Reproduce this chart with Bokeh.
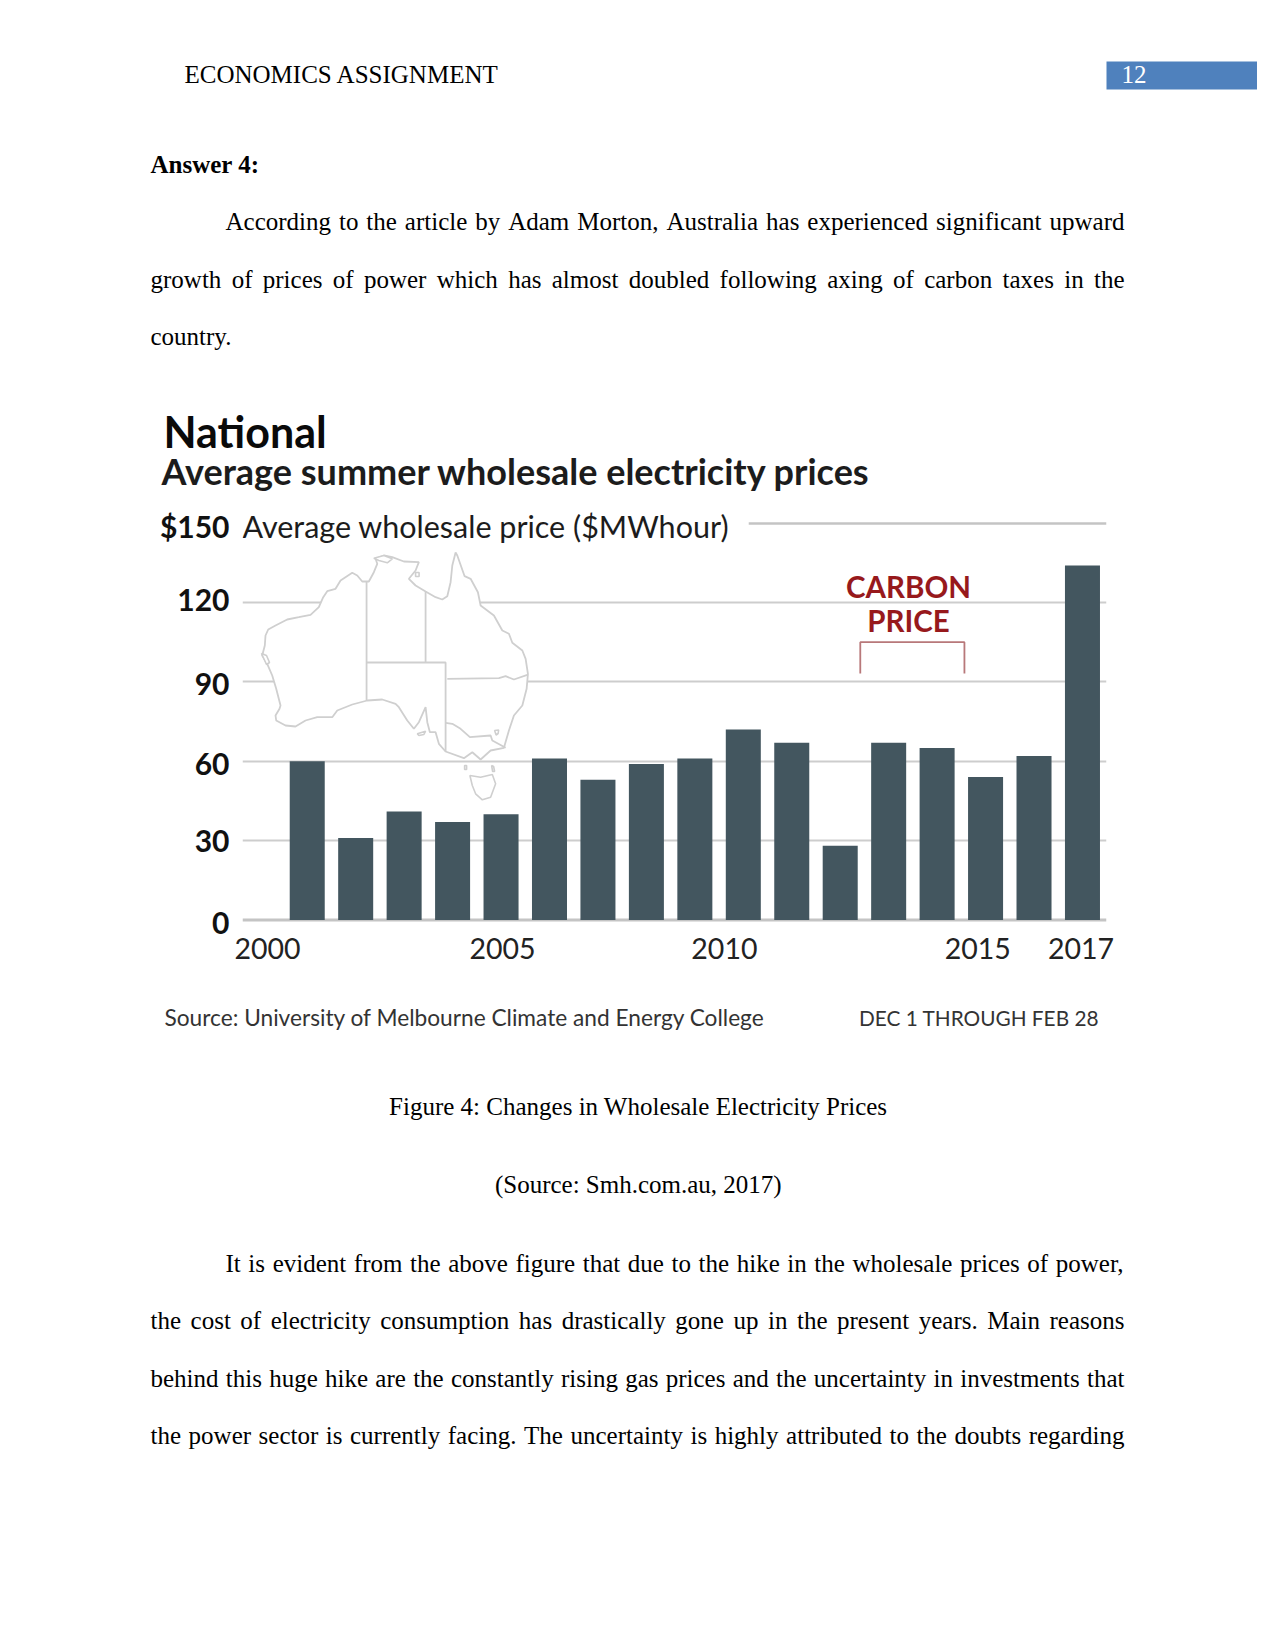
from bokeh.plotting import figure
from bokeh.embed import file_html
from bokeh.resources import INLINE
from bokeh.models import Label, Range1d, FixedTicker, Grid, LinearAxis, BoxAnnotation

# ---- chart data
years = [2001, 2002, 2003, 2004, 2005, 2006, 2007, 2008, 2009, 2010, 2011, 2012, 2013, 2014, 2015, 2016, 2017]
prices = [60, 31, 41, 37, 40, 61, 53, 59, 61, 72, 67, 28, 67, 65, 54, 62, 134]
grid_ticks = [30, 60, 90, 120]
# the reference's tick labels sit a little off their gridlines, so label anchors differ slightly
y_ticks = [-0.8, 30.4, 59.2, 89.6, 121.2, 148.8]
y_labels = ["0", "30", "60", "90", "120", "$150"]
x_ticks = [2000.18, 2005.03, 2009.61, 2014.84, 2016.97]
x_labels = ["2000", "2005", "2010", "2015", "2017"]

# ---- map outline, traced in page pixels
coast_x = [280, 275.7, 271.7, 266.7, 261.7, 264.3, 265, 267.7, 275, 286.7, 298.3, 310, 318.3, 322.7, 326.7, 335, 340, 351.7, 356.7, 361.7, 368.3, 373.3, 376.7, 375, 383.3, 391.7, 403.3, 418.3, 415, 408.3, 415, 425, 435, 441.7, 446.7, 450, 451.7, 455, 456.7, 464, 470, 477.3, 480, 493.3, 501.7, 508.3, 511.7, 521.7, 525, 527.3, 526, 521.7, 513.3, 508.3, 503.3, 490, 480, 471.7, 463.3, 445, 438.3, 435, 429.3, 426.7, 425, 418.3, 413.3, 406.7, 398.3, 395, 381.7, 366.7, 351.7, 336.7, 331.7, 316.7, 305, 295, 285, 275.7, 275, 279]
coast_y = [705, 688.3, 675, 663.3, 655, 645, 635, 629, 625, 619, 616.7, 614.3, 606.7, 596.7, 590.7, 588.3, 580, 572.3, 575, 581, 581, 571.7, 563.3, 558.3, 555, 556.7, 561, 561.7, 570, 578.3, 585, 591, 596.7, 599, 595.7, 581.7, 565, 552, 555, 575.7, 578.3, 591.7, 605, 615, 630, 633.3, 642.3, 650, 658.3, 673.3, 688.3, 705, 715, 730, 747.3, 750, 759, 751.7, 757.7, 751, 743.3, 731.7, 731.7, 721.7, 706.7, 721.7, 728.3, 720, 706.7, 703.3, 699, 700, 704, 710, 716.7, 716.7, 720, 726, 725, 720, 715, 708.3]
tas_x = [469.3, 480, 491.7, 495, 490, 481.7, 475, 471.7]
tas_y = [775, 776.7, 774, 783.3, 796.7, 799.3, 793.3, 785]
kangaroo_x = [416.7, 425, 423.3, 418.3]
kangaroo_y = [733.3, 730.7, 734, 735]
melville_x = [373.3, 383.3, 391.7, 386.7, 378.3]
melville_y = [557.7, 555, 558.3, 562.3, 560]
king_x = [464, 466, 466, 464]
king_y = [765, 765, 769, 769]
flinders_x = [491, 493, 494, 492]
flinders_y = [765, 766, 771, 771]
groote_x = [415, 418.5, 418.5, 415]
groote_y = [572, 572, 576, 576]
lake_x = [494, 498, 497.5, 495.5]
lake_y = [730, 729.5, 733, 734.5]
shark_x = [261, 266, 269, 266]
shark_y = [653, 655, 662, 664]
border_xs = [[366, 366], [425, 425], [366, 445, 445], [446.7, 498.3, 505, 513.3, 526.7], [445, 451.7, 460, 469.3, 490, 491.7, 505]]
border_ys = [[581, 700], [591, 662], [662, 662, 751], [678.3, 677.7, 675.7, 679, 674.3], [722.3, 723.3, 728.3, 736.7, 735, 740, 747.3]]
bracket_x = [859.5, 859.5, 963.6, 963.6]
bracket_y = [673, 641.7, 641.7, 673]
top_rule_x = [748, 1105.6]
top_rule_y = [523, 523]
base_rule_x = [242, 1105.6]
base_rule_y = [919.4, 919.4]

# ---- page text
TIMES = {' ':250,'a':444,'b':500,'c':444,'d':500,'e':444,'f':333,'g':500,'h':500,'i':278,'j':278,'k':500,'l':278,'m':778,'n':500,'o':500,'p':500,'q':500,'r':333,'s':389,'t':278,'u':500,'v':500,'w':722,'x':500,'y':500,'z':444,'A':722,'M':889,'T':611,'I':333,',':250,'.':250}
para_lines = [
    (225, 229, "According to the article by Adam Morton, Australia has experienced significant upward"),
    (150, 287, "growth of prices of power which has almost doubled following axing of carbon taxes in the"),
    (225, 1271, "It is evident from the above figure that due to the hike in the wholesale prices of power,"),
    (150, 1328, "the cost of electricity consumption has drastically gone up in the present years. Main reasons"),
    (150, 1386, "behind this huge hike are the constantly rising gas prices and the uncertainty in investments that"),
    (150, 1443, "the power sector is currently facing. The uncertainty is highly attributed to the doubts regarding"),
]
RIGHT_EDGE = 1124
SERIF_PX = 25
SANS = "Lato"
BASE_FIX = 0.34  # share of the font size by which a label's anchor sits above its drawn position

PAGE_W = 1270
FL, FR, FT, FB = 242, 1105.6, 503, 925  # chart frame edges on the page
CHART_BOTTOM = 975
PAGE_BOTTOM = 1645


def blank(y0, y1):
    f = figure(width=PAGE_W, height=y1 - y0, output_backend="svg", toolbar_location=None,
               x_axis_location=None, y_axis_location=None, x_range=Range1d(0, PAGE_W), y_range=Range1d(y1, y0),
               min_border_left=0, min_border_right=0, min_border_top=0, min_border_bottom=0)
    f.outline_line_color = None
    f.grid.visible = False
    return f


top = blank(0, FT)
bottom = blank(CHART_BOTTOM, PAGE_BOTTOM)

p = figure(width=PAGE_W, height=CHART_BOTTOM - FT, output_backend="svg", toolbar_location=None,
           x_range=Range1d(2001 + (FL - 306.7) / 48.43, 2001 + (FR - 306.7) / 48.43),
           y_range=Range1d((919.4 - FB) / 2.644, (919.4 - FT) / 2.644),
           x_axis_location=None, y_axis_location=None,
           min_border_left=FL, min_border_right=int(PAGE_W - FR),
           min_border_top=0, min_border_bottom=CHART_BOTTOM - FB)
p.outline_line_color = None
p.grid.visible = False
p.extra_x_ranges["page"] = Range1d(FL, FR)
p.extra_y_ranges["page"] = Range1d(FB, FT)

xa = LinearAxis(ticker=FixedTicker(ticks=x_ticks), major_label_overrides=dict(zip(x_ticks, x_labels)),
                axis_line_color=None, major_tick_line_color=None, minor_tick_line_color=None,
                major_label_standoff=6, major_label_text_font=SANS, major_label_text_font_size="28.5px",
                major_label_text_color="#222222")
ya = LinearAxis(ticker=FixedTicker(ticks=y_ticks), major_label_overrides=dict(zip(y_ticks, y_labels)),
                axis_line_color=None, major_tick_line_color=None, minor_tick_line_color=None,
                major_label_standoff=7, major_label_text_font=SANS, major_label_text_font_style="bold",
                major_label_text_font_size="30px", major_label_text_color="#111111")
p.add_layout(xa, "below")
p.add_layout(ya, "left")
p.add_layout(Grid(dimension=1, ticker=FixedTicker(ticks=grid_ticks), grid_line_color="#cdcdcd", grid_line_width=2))

MAP = dict(x_range_name="page", y_range_name="page")
p.line(top_rule_x, top_rule_y, line_color="#c4c4c4", line_width=2.5, **MAP)
p.line(base_rule_x, base_rule_y, line_color="#c4c4c4", line_width=3, **MAP)
p.patch(coast_x, coast_y, fill_color="white", line_color="#cfcfcf", line_width=1.8, **MAP)
for bx, by in zip(border_xs, border_ys):
    p.line(bx, by, line_color="#cfcfcf", line_width=1.8, **MAP)
for ix, iy in [(tas_x, tas_y), (kangaroo_x, kangaroo_y), (melville_x, melville_y), (king_x, king_y),
               (flinders_x, flinders_y), (groote_x, groote_y), (lake_x, lake_y), (shark_x, shark_y)]:
    p.patch(ix, iy, fill_color="white", line_color="#cfcfcf", line_width=1.6, **MAP)

p.vbar(x=years, top=prices, bottom=0, width=35 / 48.43, fill_color="#43565f", line_color=None)
p.line(bracket_x, bracket_y, line_color="#b8787a", line_width=1.8, **MAP)


def put(fig, y0, text, x, y, size, font="Liberation Serif", style="normal", color="#000000", align="left"):
    fig.add_layout(Label(x=x, y=y - y0 - BASE_FIX * size, x_units="canvas", y_units="canvas", text=text,
                         text_font=font, text_font_size=f"{size}px", text_font_style=style,
                         text_color=color, text_align=align, text_baseline="alphabetic"))


# chart texts
put(top, 0, "National", 163, 446, 43, SANS, "bold", "#0a0a0a")
put(top, 0, "Average summer wholesale electricity prices", 161, 483, 36, SANS, "bold", "#1c1c1c")
put(p, FT, "Average wholesale price ($MWhour)", 242, 536, 30.5, SANS, "normal", "#1c1c1c")
put(p, FT, "CARBON", 908, 596, 29.5, SANS, "bold", "#97191c", "center")
put(p, FT, "PRICE", 908, 630, 29.5, SANS, "bold", "#97191c", "center")
put(bottom, CHART_BOTTOM, "Source: University of Melbourne Climate and Energy College", 164, 1025, 22.7, SANS, "normal", "#333333")
put(bottom, CHART_BOTTOM, "DEC 1 THROUGH FEB 28", 858.5, 1024, 20.8, SANS, "normal", "#333333")

# page texts
top.add_layout(BoxAnnotation(left=1106, right=1256.5, top=61, bottom=89,
                             left_units="canvas", right_units="canvas", top_units="canvas", bottom_units="canvas",
                             fill_color="#4f81bd", fill_alpha=1, line_color=None))
put(top, 0, "ECONOMICS ASSIGNMENT", 184, 82, SERIF_PX)
put(top, 0, "12", 1121, 82, SERIF_PX, color="#ffffff")
put(top, 0, "Answer 4:", 150, 172.5, SERIF_PX, style="bold")
put(top, 0, "country.", 150, 344.5, SERIF_PX)
put(bottom, CHART_BOTTOM, "Figure 4: Changes in Wholesale Electricity Prices", 637.8, 1114, SERIF_PX, align="center")
put(bottom, CHART_BOTTOM, "(Source: Smh.com.au, 2017)", 637.8, 1192, SERIF_PX, align="center")

for x0, base, line in para_lines:
    words = line.split(" ")
    widths = [sum(TIMES.get(c, 500) for c in w) * SERIF_PX / 1000 for w in words]
    gap = (RIGHT_EDGE - x0 - sum(widths)) / (len(words) - 1)
    x = x0
    fig, y0 = (top, 0) if base < FT else (bottom, CHART_BOTTOM)
    for w, wd in zip(words, widths):
        put(fig, y0, w, x, base, SERIF_PX)
        x += wd + gap

open("out.html", "w").write(file_html([top, p, bottom], INLINE))
